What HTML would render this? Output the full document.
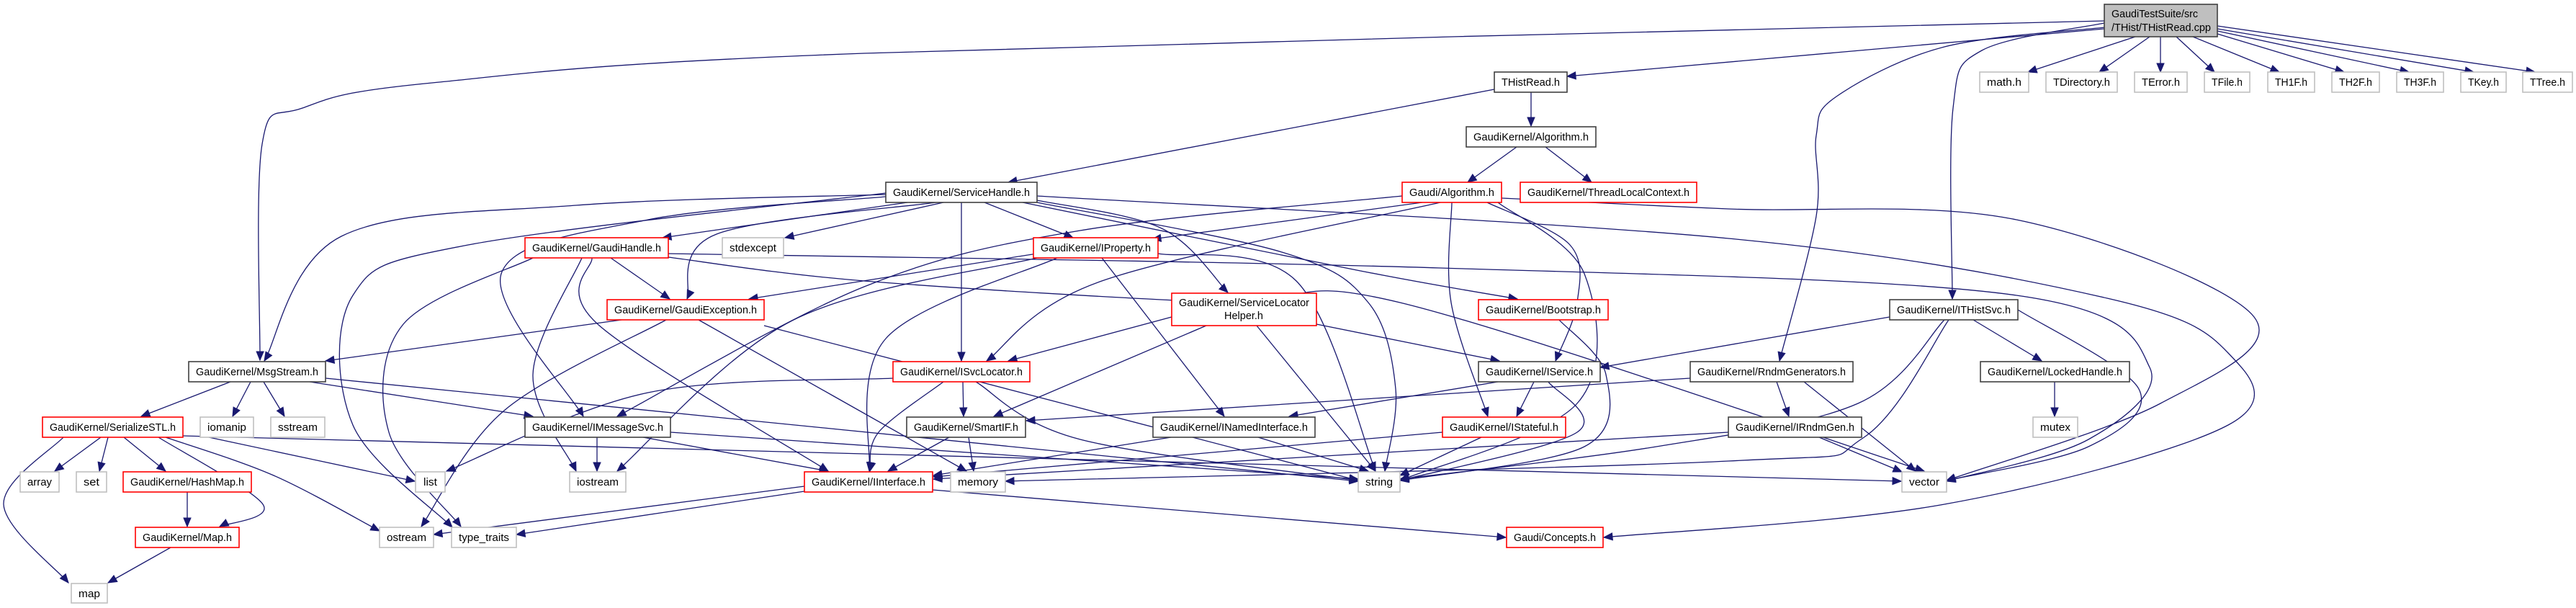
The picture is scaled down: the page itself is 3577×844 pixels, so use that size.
<!DOCTYPE html>
<html><head><meta charset="utf-8">
<style>
html,body{margin:0;padding:0;background:#fff;}
svg{display:block;}
text{font-family:"Liberation Sans",sans-serif;font-size:15px;fill:#000;}
</style></head>
<body>
<svg id="g" width="3577" height="844" viewBox="0 0 3577 844" xmlns="http://www.w3.org/2000/svg">
<rect width="3577" height="844" fill="#fff"/>
<g id="edges" fill="none" stroke="#191970" stroke-width="1.3"></g>
<g id="arrows" fill="#191970" stroke="#191970" stroke-width="1"></g>
<g id="nodes" stroke-width="1.6">
<rect x="2922" y="6" width="157" height="45" fill="#bfbfbf" stroke="#404040"/>
<text x="2932" y="24" textLength="120" lengthAdjust="spacingAndGlyphs">GaudiTestSuite/src</text>
<text x="2932" y="43" textLength="138" lengthAdjust="spacingAndGlyphs">/THist/THistRead.cpp</text>

<rect x="2075" y="100" width="101" height="28" fill="#fff" stroke="#404040"/>
<text x="2085" y="119" textLength="81" lengthAdjust="spacingAndGlyphs">THistRead.h</text>
<rect x="2036" y="176" width="180" height="28" fill="#fff" stroke="#404040"/>
<text x="2046" y="195" textLength="160" lengthAdjust="spacingAndGlyphs">GaudiKernel/Algorithm.h</text>
<rect x="1230" y="253" width="210" height="28" fill="#fff" stroke="#404040"/>
<text x="1240" y="272" textLength="190" lengthAdjust="spacingAndGlyphs">GaudiKernel/ServiceHandle.h</text>
<rect x="1947" y="253" width="138" height="28" fill="#fff" stroke="#ff0000"/>
<text x="1957" y="272" textLength="118" lengthAdjust="spacingAndGlyphs">Gaudi/Algorithm.h</text>
<rect x="2111" y="253" width="245" height="28" fill="#fff" stroke="#ff0000"/>
<text x="2121" y="272" textLength="225" lengthAdjust="spacingAndGlyphs">GaudiKernel/ThreadLocalContext.h</text>

<rect x="729" y="330" width="199" height="28" fill="#fff" stroke="#ff0000"/>
<text x="739" y="349" textLength="179" lengthAdjust="spacingAndGlyphs">GaudiKernel/GaudiHandle.h</text>
<rect x="1003" y="330" width="85" height="28" fill="#fff" stroke="#bfbfbf"/>
<text x="1013" y="349" textLength="65" lengthAdjust="spacingAndGlyphs">stdexcept</text>
<rect x="1435" y="330" width="173" height="28" fill="#fff" stroke="#ff0000"/>
<text x="1445" y="349" textLength="153" lengthAdjust="spacingAndGlyphs">GaudiKernel/IProperty.h</text>
<rect x="1627" y="407" width="201" height="45" fill="#fff" stroke="#ff0000"/>
<text x="1637" y="425" textLength="181" lengthAdjust="spacingAndGlyphs">GaudiKernel/ServiceLocator</text>
<text x="1700" y="443" textLength="54" lengthAdjust="spacingAndGlyphs">Helper.h</text>
<rect x="2053" y="416" width="180" height="28" fill="#fff" stroke="#ff0000"/>
<text x="2063" y="435" textLength="160" lengthAdjust="spacingAndGlyphs">GaudiKernel/Bootstrap.h</text>
<rect x="843" y="416" width="218" height="28" fill="#fff" stroke="#ff0000"/>
<text x="853" y="435" textLength="198" lengthAdjust="spacingAndGlyphs">GaudiKernel/GaudiException.h</text>
<rect x="2624" y="416" width="178" height="28" fill="#fff" stroke="#404040"/>
<text x="2634" y="435" textLength="158" lengthAdjust="spacingAndGlyphs">GaudiKernel/ITHistSvc.h</text>

<rect x="262" y="502" width="190" height="28" fill="#fff" stroke="#404040"/>
<text x="272" y="521" textLength="170" lengthAdjust="spacingAndGlyphs">GaudiKernel/MsgStream.h</text>
<rect x="1240" y="502" width="190" height="28" fill="#fff" stroke="#ff0000"/>
<text x="1250" y="521" textLength="170" lengthAdjust="spacingAndGlyphs">GaudiKernel/ISvcLocator.h</text>
<rect x="2053" y="502" width="169" height="28" fill="#fff" stroke="#404040"/>
<text x="2063" y="521" textLength="149" lengthAdjust="spacingAndGlyphs">GaudiKernel/IService.h</text>
<rect x="2347" y="502" width="226" height="28" fill="#fff" stroke="#404040"/>
<text x="2357" y="521" textLength="206" lengthAdjust="spacingAndGlyphs">GaudiKernel/RndmGenerators.h</text>
<rect x="2750" y="502" width="207" height="28" fill="#fff" stroke="#404040"/>
<text x="2760" y="521" textLength="187" lengthAdjust="spacingAndGlyphs">GaudiKernel/LockedHandle.h</text>

<rect x="59" y="579" width="195" height="28" fill="#fff" stroke="#ff0000"/>
<text x="69" y="598" textLength="175" lengthAdjust="spacingAndGlyphs">GaudiKernel/SerializeSTL.h</text>
<rect x="278" y="579" width="74" height="28" fill="#fff" stroke="#bfbfbf"/>
<text x="288" y="598" textLength="54" lengthAdjust="spacingAndGlyphs">iomanip</text>
<rect x="376" y="579" width="75" height="28" fill="#fff" stroke="#bfbfbf"/>
<text x="386" y="598" textLength="55" lengthAdjust="spacingAndGlyphs">sstream</text>
<rect x="729" y="579" width="202" height="28" fill="#fff" stroke="#404040"/>
<text x="739" y="598" textLength="182" lengthAdjust="spacingAndGlyphs">GaudiKernel/IMessageSvc.h</text>
<rect x="1259" y="579" width="165" height="28" fill="#fff" stroke="#404040"/>
<text x="1269" y="598" textLength="145" lengthAdjust="spacingAndGlyphs">GaudiKernel/SmartIF.h</text>
<rect x="1601" y="579" width="225" height="28" fill="#fff" stroke="#404040"/>
<text x="1611" y="598" textLength="205" lengthAdjust="spacingAndGlyphs">GaudiKernel/INamedInterface.h</text>
<rect x="2003" y="579" width="171" height="28" fill="#fff" stroke="#ff0000"/>
<text x="2013" y="598" textLength="151" lengthAdjust="spacingAndGlyphs">GaudiKernel/IStateful.h</text>
<rect x="2400" y="579" width="185" height="28" fill="#fff" stroke="#404040"/>
<text x="2410" y="598" textLength="165" lengthAdjust="spacingAndGlyphs">GaudiKernel/IRndmGen.h</text>
<rect x="2823" y="579" width="62" height="28" fill="#fff" stroke="#bfbfbf"/>
<text x="2833" y="598" textLength="42" lengthAdjust="spacingAndGlyphs">mutex</text>

<rect x="28" y="655" width="54" height="28" fill="#fff" stroke="#bfbfbf"/>
<text x="38" y="674" textLength="34" lengthAdjust="spacingAndGlyphs">array</text>
<rect x="106" y="655" width="42" height="28" fill="#fff" stroke="#bfbfbf"/>
<text x="116" y="674" textLength="22" lengthAdjust="spacingAndGlyphs">set</text>
<rect x="171" y="655" width="178" height="28" fill="#fff" stroke="#ff0000"/>
<text x="181" y="674" textLength="158" lengthAdjust="spacingAndGlyphs">GaudiKernel/HashMap.h</text>
<rect x="577" y="655" width="41" height="28" fill="#fff" stroke="#bfbfbf"/>
<text x="588" y="674" textLength="19" lengthAdjust="spacingAndGlyphs">list</text>
<rect x="791" y="655" width="78" height="28" fill="#fff" stroke="#bfbfbf"/>
<text x="801" y="674" textLength="58" lengthAdjust="spacingAndGlyphs">iostream</text>
<rect x="1117" y="655" width="178" height="28" fill="#fff" stroke="#ff0000"/>
<text x="1127" y="674" textLength="158" lengthAdjust="spacingAndGlyphs">GaudiKernel/IInterface.h</text>
<rect x="1320" y="655" width="76" height="28" fill="#fff" stroke="#bfbfbf"/>
<text x="1330" y="674" textLength="56" lengthAdjust="spacingAndGlyphs">memory</text>
<rect x="1886" y="655" width="58" height="28" fill="#fff" stroke="#bfbfbf"/>
<text x="1896" y="674" textLength="38" lengthAdjust="spacingAndGlyphs">string</text>
<rect x="2641" y="655" width="62" height="28" fill="#fff" stroke="#bfbfbf"/>
<text x="2651" y="674" textLength="42" lengthAdjust="spacingAndGlyphs">vector</text>

<rect x="188" y="732" width="144" height="28" fill="#fff" stroke="#ff0000"/>
<text x="198" y="751" textLength="124" lengthAdjust="spacingAndGlyphs">GaudiKernel/Map.h</text>
<rect x="527" y="732" width="75" height="28" fill="#fff" stroke="#bfbfbf"/>
<text x="537" y="751" textLength="55" lengthAdjust="spacingAndGlyphs">ostream</text>
<rect x="627" y="732" width="90" height="28" fill="#fff" stroke="#bfbfbf"/>
<text x="637" y="751" textLength="70" lengthAdjust="spacingAndGlyphs">type_traits</text>
<rect x="2092" y="732" width="134" height="28" fill="#fff" stroke="#ff0000"/>
<text x="2102" y="751" textLength="114" lengthAdjust="spacingAndGlyphs">Gaudi/Concepts.h</text>
<rect x="99" y="810" width="50" height="27" fill="#fff" stroke="#bfbfbf"/>
<text x="109" y="829" textLength="30" lengthAdjust="spacingAndGlyphs">map</text>

<rect x="2749" y="100" width="68" height="28" fill="#fff" stroke="#bfbfbf"/>
<text x="2759" y="119" textLength="48" lengthAdjust="spacingAndGlyphs">math.h</text>
<rect x="2841" y="100" width="99" height="28" fill="#fff" stroke="#bfbfbf"/>
<text x="2851" y="119" textLength="79" lengthAdjust="spacingAndGlyphs">TDirectory.h</text>
<rect x="2964" y="100" width="73" height="28" fill="#fff" stroke="#bfbfbf"/>
<text x="2974" y="119" textLength="53" lengthAdjust="spacingAndGlyphs">TError.h</text>
<rect x="3061" y="100" width="63" height="28" fill="#fff" stroke="#bfbfbf"/>
<text x="3071" y="119" textLength="43" lengthAdjust="spacingAndGlyphs">TFile.h</text>
<rect x="3149" y="100" width="65" height="28" fill="#fff" stroke="#bfbfbf"/>
<text x="3159" y="119" textLength="45" lengthAdjust="spacingAndGlyphs">TH1F.h</text>
<rect x="3238" y="100" width="66" height="28" fill="#fff" stroke="#bfbfbf"/>
<text x="3248" y="119" textLength="46" lengthAdjust="spacingAndGlyphs">TH2F.h</text>
<rect x="3328" y="100" width="65" height="28" fill="#fff" stroke="#bfbfbf"/>
<text x="3338" y="119" textLength="45" lengthAdjust="spacingAndGlyphs">TH3F.h</text>
<rect x="3417" y="100" width="63" height="28" fill="#fff" stroke="#bfbfbf"/>
<text x="3427" y="119" textLength="43" lengthAdjust="spacingAndGlyphs">TKey.h</text>
<rect x="3503" y="100" width="69" height="28" fill="#fff" stroke="#bfbfbf"/>
<text x="3513" y="119" textLength="49" lengthAdjust="spacingAndGlyphs">TTree.h</text>
</g>
</svg>
<script>
var E=[
[[2922,29],[1200,74],[600,115],[420,150],[364,200],[361,500]],
[[2922,40],[2176,106]],
[[2922,32],[2752,70],[2712,150],[2711,415]],
[[2922,38],[2700,65],[2550,134],[2522,188],[2522,300],[2471,501]],
[[2965,51],[2816,100]],[[2985,51],[2915,100]],[[3000,51],[3000,100]],[[3022,51],[3075,100]],
[[3045,51],[3165,100]],[[3079,47],[3255,100]],[[3079,43],[3345,100]],[[3079,40],[3435,100]],[[3079,36],[3520,100]],
[[2075,124],[1400,253]],[[2126,128],[2126,175]],
[[2106,204],[2038,253]],[[2146,204],[2210,253]],
[[1230,270],[800,285],[474,328],[367,501]],
[[1230,268],[650,340],[490,410],[490,590],[628,732]],
[[1230,273],[900,305],[696,380],[810,578]],
[[1260,281],[920,330]],
[[1300,281],[995,325],[954,415]],
[[1310,281],[1090,330]],
[[1367,281],[1490,330]],
[[1440,278],[1613,317],[1705,406]],
[[1335,281],[1335,501]],
[[1420,281],[1889,376],[2107,415]],
[[1440,281],[1780,350],[1900,420],[1938,540],[1923,654]],
[[1440,272],[2400,331],[2926,414],[3094,490],[3094,590],[2700,700],[2227,746]],
[[2085,275],[2400,290],[2800,305],[3130,440],[3000,560],[2703,667]],
[[1975,281],[1600,332]],
[[1947,272],[1500,320],[1200,398],[857,578]],
[[2000,281],[1530,390],[1370,501]],
[[2016,281],[2015,420],[2066,578]],
[[2065,281],[2180,340],[2190,420],[2160,501]],
[[2080,281],[2200,380],[2190,560],[1944,667]],
[[848,358],[930,415]],
[[740,358],[560,450],[540,600],[640,731]],
[[808,358],[740,520],[800,654]],
[[822,358],[830,450],[1150,654]],
[[928,357],[1200,390],[1700,420],[1944,420],[2672,654]],
[[928,352],[2000,372],[2800,410],[2985,510],[2900,610],[2703,668]],
[[1440,352],[1040,415]],
[[1468,358],[1230,470],[1207,654]],
[[1530,358],[1700,578]],
[[1608,352],[1800,390],[1910,654]],
[[1440,358],[1100,445],[857,654]],
[[1627,440],[1400,501]],
[[1675,452],[1380,578]],
[[1828,450],[2082,501]],
[[1745,452],[1910,654]],
[[2165,444],[2230,520],[2200,620],[1944,667]],
[[863,444],[452,501]],
[[925,444],[700,570],[585,731]],
[[970,444],[1342,654]],
[[1061,452],[1886,667]],
[[2624,440],[2222,510]],
[[2740,444],[2835,501]],
[[2802,430],[2970,540],[2900,620],[2703,667]],
[[2700,444],[2580,560],[2300,620],[1944,665]],
[[2706,444],[2587,608],[2400,640],[1396,668]],
[[320,530],[196,578]],[[348,530],[323,578]],[[366,530],[395,578]],
[[430,530],[740,578]],
[[452,525],[1886,668]],
[[1337,530],[1338,578]],
[[1310,530],[1220,600],[1208,654]],
[[1355,530],[1500,610],[1886,667]],
[[1240,525],[900,545],[620,654]],
[[2080,530],[1790,578]],
[[2130,530],[2106,578]],
[[2150,530],[2190,600],[1944,667]],
[[2467,530],[2484,578]],
[[2505,530],[2660,654]],
[[2347,525],[1425,584]],
[[2853,530],[2853,578]],
[[140,607],[76,654]],[[150,607],[138,654]],[[172,607],[230,654]],
[[220,607],[365,700],[305,731]],
[[88,607],[5,700],[95,809]],
[[290,607],[576,668]],
[[230,607],[380,660],[527,737]],
[[254,605],[2640,668]],
[[829,607],[829,654]],[[893,607],[1150,654]],[[931,600],[1886,665]],
[[1318,607],[1233,654]],[[1345,607],[1352,654]],
[[1626,607],[1296,660]],[[1747,607],[1900,654]],
[[2003,600],[1296,662]],[[2057,607],[1944,660]],
[[2526,607],[2641,655]],[[2400,600],[1296,665]],
[[260,683],[260,731]],[[237,760],[150,809]],
[[1117,675],[602,742]],[[1117,682],[717,742]],[[1295,680],[2091,746]]
];
var NS="http://www.w3.org/2000/svg",ge=document.getElementById('edges'),ga=document.getElementById('arrows');
E.forEach(function(p){
 var d="M"+p[0][0]+","+p[0][1],lx=p[0][0],ly=p[0][1];
 for(var i=0;i<p.length-1;i++){
  var p0=p[i-1]||p[i],p1=p[i],p2=p[i+1],p3=p[i+2]||p[i+1];
  var c1x=p1[0]+(p2[0]-p0[0])/6,c1y=p1[1]+(p2[1]-p0[1])/6;
  var c2x=p2[0]-(p3[0]-p1[0])/6,c2y=p2[1]-(p3[1]-p1[1])/6;
  lx=c2x;ly=c2y;
  d+=" C"+c1x+","+c1y+" "+c2x+","+c2y+" "+p2[0]+","+p2[1];
 }
 var e=p[p.length-1],s=p[p.length-2];
 var dx=e[0]-lx,dy=e[1]-ly;
 if(Math.abs(dx)+Math.abs(dy)<1){dx=e[0]-s[0];dy=e[1]-s[1];}
 var L=Math.sqrt(dx*dx+dy*dy);dx/=L;dy/=L;
 var al=12,aw=5,bx=e[0]-dx*al,by=e[1]-dy*al;
 var path=document.createElementNS(NS,'path');path.setAttribute('d',d);
 ge.appendChild(path);
 var a=document.createElementNS(NS,'polygon');
 a.setAttribute('points',e[0]+","+e[1]+" "+(bx-dy*aw)+","+(by+dx*aw)+" "+(bx+dy*aw)+","+(by-dx*aw));
 ga.appendChild(a);
});
</script>
</body></html>
